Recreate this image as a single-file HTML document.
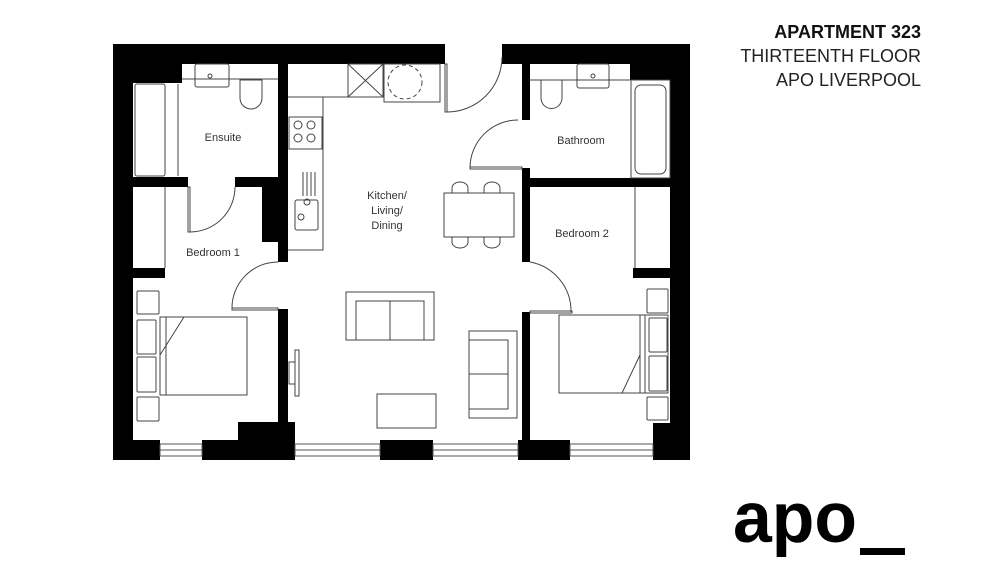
<!DOCTYPE html>
<html><head><meta charset="utf-8"><style>
html,body{margin:0;padding:0;background:#fff;}
svg{display:block;}
</style></head><body>
<svg width="1000" height="577" viewBox="0 0 1000 577" xmlns="http://www.w3.org/2000/svg">
<rect width="1000" height="577" fill="#fff"/>
<!-- Title -->
<g font-family="Liberation Sans, sans-serif" font-size="18" text-anchor="end" fill="#222">
<text x="921" y="38" font-weight="bold" fill="#111">APARTMENT 323</text>
<text x="921" y="62">THIRTEENTH FLOOR</text>
<text x="921" y="86">APO LIVERPOOL</text>
</g>
<!-- Logo -->
<text x="733" y="542" font-family="Liberation Sans, sans-serif" font-weight="bold" font-size="71" fill="#000" textLength="124" lengthAdjust="spacingAndGlyphs">apo</text>
<rect x="860" y="548" width="45" height="7" fill="#000"/>

<!-- Walls -->
<g fill="#000">
<rect x="113" y="44" width="332" height="20"/>
<rect x="502" y="44" width="188" height="20"/>
<rect x="113" y="44" width="20" height="416"/>
<rect x="670" y="44" width="20" height="416"/>
<rect x="133" y="64" width="49" height="19"/>
<rect x="630" y="63" width="40" height="17"/>
<rect x="278" y="64" width="10" height="198"/>
<rect x="262" y="185" width="26" height="57"/>
<rect x="133" y="177" width="55" height="10"/>
<rect x="235" y="177" width="53" height="10"/>
<rect x="133" y="268" width="32" height="10"/>
<rect x="278" y="309" width="10" height="131"/>
<rect x="113" y="440" width="47" height="20"/>
<rect x="202" y="440" width="93" height="20"/>
<rect x="238" y="422" width="57" height="20"/>
<rect x="380" y="440" width="53" height="20"/>
<rect x="522" y="64" width="8" height="56"/>
<rect x="522" y="168" width="8" height="94"/>
<rect x="522" y="312" width="8" height="128"/>
<rect x="518" y="440" width="52" height="20"/>
<rect x="653" y="423" width="37" height="37"/>
<rect x="530" y="178" width="140" height="9"/>
<rect x="633" y="268" width="37" height="10"/>
</g>

<!-- Windows -->
<g fill="none" stroke="#555" stroke-width="1">
<rect x="160" y="444" width="42" height="12"/><line x1="160" y1="450" x2="202" y2="450"/>
<rect x="295" y="444" width="85" height="12"/><line x1="295" y1="450" x2="380" y2="450"/>
<rect x="433" y="444" width="85" height="12"/><line x1="433" y1="450" x2="518" y2="450"/>
<rect x="570" y="444" width="83" height="12"/><line x1="570" y1="450" x2="653" y2="450"/>
</g>

<!-- Fixtures & furniture -->
<g fill="none" stroke="#444" stroke-width="1">
<!-- Ensuite -->
<rect x="135" y="84" width="30" height="92" rx="2"/>
<line x1="178" y1="84" x2="178" y2="176"/>
<line x1="182" y1="79" x2="278" y2="79"/>
<rect x="195" y="64" width="34" height="23" rx="2"/>
<circle cx="210" cy="76" r="2"/>
<path d="M240 80 h22 v18 a11 11 0 0 1 -22 0 z"/>
<line x1="165" y1="187" x2="165" y2="268"/>
<!-- Ensuite door -->
<rect x="188" y="187" width="2" height="45"/>
<path d="M190 232 A45 45 0 0 0 235 187"/>
<!-- Bedroom1 door -->
<path d="M232 309 A46 46 0 0 1 278 262"/>
<rect x="232" y="308" width="46" height="2"/>
<!-- Kitchen -->
<polyline points="288,97 323,97 323,250 288,250"/>
<line x1="323" y1="97" x2="383" y2="97"/>
<rect x="348" y="64" width="35" height="33"/>
<line x1="348" y1="64" x2="383" y2="97"/><line x1="383" y1="64" x2="348" y2="97"/>
<rect x="384" y="64" width="56" height="38"/>
<circle cx="405" cy="82" r="17" stroke-dasharray="4 3"/>
<rect x="289" y="117" width="33" height="32"/>
<circle cx="298" cy="125" r="4"/><circle cx="311" cy="125" r="4"/>
<circle cx="298" cy="138" r="4"/><circle cx="311" cy="138" r="4"/>
<rect x="295" y="200" width="23" height="30" rx="2"/>
<circle cx="307" cy="202" r="3"/><circle cx="301" cy="217" r="3"/>
<line x1="303" y1="172" x2="303" y2="196"/><line x1="307" y1="172" x2="307" y2="196"/><line x1="311" y1="172" x2="311" y2="196"/><line x1="315" y1="172" x2="315" y2="196"/>
<!-- Front door -->
<rect x="445" y="64" width="2" height="48"/>
<path d="M447 112 A55 55 0 0 0 502 57"/>
<!-- Bathroom door -->
<path d="M470 168 A48 48 0 0 1 518 120"/>
<rect x="470" y="167" width="52" height="2"/>
<!-- Dining -->
<rect x="444" y="193" width="70" height="44"/>
<path d="M452 193 v-5 a8 6 0 0 1 16 0 v5"/><path d="M484 193 v-5 a8 6 0 0 1 16 0 v5"/>
<path d="M452 237 v5 a8 6 0 0 0 16 0 v-5"/><path d="M484 237 v5 a8 6 0 0 0 16 0 v-5"/>
<!-- Living -->
<rect x="346" y="292" width="88" height="48"/>
<rect x="356" y="301" width="68" height="39"/><line x1="390" y1="301" x2="390" y2="340"/>
<rect x="469" y="331" width="48" height="87"/>
<rect x="469" y="340" width="39" height="69"/><line x1="469" y1="374" x2="508" y2="374"/>
<rect x="377" y="394" width="59" height="34"/>
<rect x="295" y="350" width="4" height="46"/><rect x="289" y="362" width="6" height="22"/>
<!-- Bedroom1 -->
<rect x="160" y="317" width="87" height="78"/>
<line x1="166" y1="317" x2="166" y2="395"/>
<polyline points="184,317 160,355"/>
<rect x="137" y="291" width="22" height="23" rx="1"/>
<rect x="137" y="320" width="19" height="34" rx="1"/>
<rect x="137" y="357" width="19" height="35" rx="1"/>
<rect x="137" y="397" width="22" height="24" rx="1"/>
<!-- Bathroom -->
<line x1="530" y1="80" x2="630" y2="80"/>
<rect x="577" y="64" width="32" height="24" rx="2"/>
<circle cx="593" cy="76" r="2"/>
<path d="M541 80 h21 v18 a10.5 10.5 0 0 1 -21 0 z"/>
<rect x="631" y="80" width="39" height="98"/>
<rect x="635" y="85" width="31" height="89" rx="6"/>
<line x1="631" y1="80" x2="631" y2="178"/>
<!-- Bedroom2 -->
<line x1="635" y1="187" x2="635" y2="268"/>
<path d="M530 262 A50 50 0 0 1 571 312"/>
<rect x="530" y="311" width="42" height="2"/>
<rect x="559" y="315" width="109" height="78"/>
<line x1="640" y1="315" x2="640" y2="393"/><line x1="645" y1="315" x2="645" y2="393"/>
<line x1="640" y1="355" x2="622" y2="393"/>
<rect x="647" y="289" width="21" height="24" rx="1"/>
<rect x="649" y="318" width="18" height="34" rx="1"/>
<rect x="649" y="356" width="18" height="35" rx="1"/>
<rect x="647" y="397" width="21" height="23" rx="1"/>
</g>

<!-- Room labels -->
<g font-family="Liberation Sans, sans-serif" font-size="11" fill="#333" text-anchor="middle">
<text x="223" y="141">Ensuite</text>
<text x="213" y="256">Bedroom 1</text>
<text x="387" y="199">Kitchen/</text>
<text x="387" y="214">Living/</text>
<text x="387" y="229">Dining</text>
<text x="581" y="144">Bathroom</text>
<text x="582" y="237">Bedroom 2</text>
</g>
</svg>
</body></html>
